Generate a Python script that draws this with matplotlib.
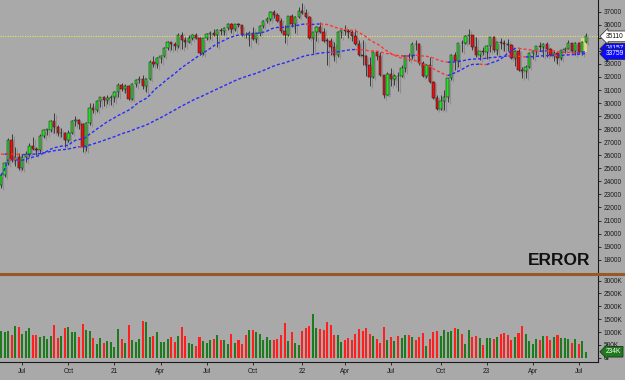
import numpy as np
import pandas as pd
import matplotlib
matplotlib.use("Agg")
import matplotlib.pyplot as plt
from matplotlib.lines import Line2D
from matplotlib.patches import Rectangle
from matplotlib import transforms

plt.rcParams["font.family"] = ["Liberation Sans", "DejaVu Sans"]

BG = "#a9a9a9"
UP, DOWN = "#22e022", "#e81010"
VOL_UP, VOL_DOWN = "#1d7a1d", "#ff1f1f"
MA_UP, MA_DOWN = "#2a2aff", "#ff3535"

# weekly candles, first week ending 2020-05-22
first_week = "2020-05-22"
opens = [
    23690, 24465, 25383, 27150, 25640, 25870, 25020, 25830, 26080, 26680,
    26470, 26430, 27440, 27940, 27940, 28660, 28150, 27680, 27680, 27200,
    27720, 28650, 28680, 28420, 26600, 28450, 29650, 29450, 30120, 30440,
    30270, 30410, 30440, 30860, 31370, 31100, 31290, 30290, 31470, 31790,
    31840, 31290, 31870, 33170, 33030, 33490, 33580, 34240, 34650, 34500,
    34340, 35250, 34860, 34690, 35020, 35250, 34980, 33800, 34950, 35310,
    35400, 35230, 35610, 35490, 35770, 36080, 35690, 36030, 35950, 35200,
    35180, 35400, 34930, 35360, 35910, 36300, 36450, 36960, 36740, 36250,
    35550, 35240, 36640, 36040, 36630, 37020, 36920, 36600, 34960, 35420,
    35790, 35440, 34780, 34760, 34320, 33650, 35460, 35570, 35530, 35440,
    35170, 34530, 33700, 33630, 32930, 32000, 33950, 33640, 32140, 30640,
    32260, 31860, 32100, 32060, 32670, 33620, 33580, 34540, 34490, 33070,
    32110, 32950, 31630, 30400, 29550, 30130, 30470, 31920, 33700, 33240,
    34580, 34570, 35160, 35230, 34270, 33700, 33980, 33910, 34380, 35030,
    34090, 34680, 34610, 34540, 34480, 33450, 34010, 32510, 32440, 32800,
    33820, 34010, 34390, 34290, 34560, 34110, 33710, 33810, 33450, 34090,
    34180, 34570, 33970, 34620, 33920, 34660,
]
highs = [
    24620, 25500, 27340, 27600, 26610, 26200, 26100, 26330, 26950, 27390,
    26670, 27600, 28000, 28050, 28700, 29200, 28350, 28120, 27750, 27900,
    28700, 29000, 28800, 28500, 28550, 30000, 29980, 30250, 30450, 30550,
    30600, 30600, 30950, 31500, 31570, 31450, 31350, 31560, 31850, 32050,
    32140, 31950, 33290, 33600, 33550, 33700, 34300, 34720, 34700, 34700,
    35330, 35440, 35050, 35200, 35300, 35400, 35050, 35020, 35370, 35500,
    35700, 35670, 35750, 35830, 36130, 36110, 36090, 36100, 36000, 35450,
    35500, 35800, 35400, 35950, 36380, 36600, 37020, 37100, 36870, 36500,
    36000, 36700, 36800, 36680, 37380, 37640, 37200, 36700, 35450, 35900,
    36200, 35780, 35000, 35000, 34650, 35500, 35600, 35950, 35700, 35600,
    35650, 34800, 34800, 33700, 33500, 34000, 34000, 33950, 32150, 32350,
    32700, 32200, 32400, 32950, 33700, 33800, 34650, 34800, 34600, 33200,
    33000, 33550, 31700, 30650, 30650, 31000, 31950, 33780, 33900, 34600,
    34800, 35190, 35650, 35250, 35030, 34000, 34300, 34450, 35050, 35120,
    34700, 34950, 34800, 34900, 34500, 34100, 34150, 32800, 32900, 33900,
    34100, 34400, 34650, 34600, 34650, 34200, 34100, 33900, 34100, 34300,
    34850, 34600, 34650, 34700, 34750, 35400,
]
lows = [
    23470, 24330, 25250, 25500, 25150, 24840, 24900, 25520, 25850, 26400,
    25990, 26200, 27350, 27550, 27800, 27700, 27450, 27400, 26600, 27050,
    27600, 28250, 28000, 26230, 26300, 28300, 29200, 29300, 29700, 29800,
    29950, 29850, 30100, 30500, 30950, 30800, 30200, 30260, 31200, 31550,
    31100, 30850, 31800, 32800, 32700, 33100, 33500, 34050, 34100, 34100,
    34200, 34150, 34300, 34600, 34850, 34900, 33700, 33700, 34850, 34900,
    35150, 34300, 35250, 35250, 35600, 35350, 35550, 35800, 35150, 34950,
    34400, 34850, 34600, 35150, 35750, 36150, 36250, 36500, 36180, 35400,
    34600, 35150, 35800, 35350, 36550, 36800, 36500, 34900, 33800, 34750,
    35350, 34700, 32950, 33700, 33250, 33550, 35000, 35200, 35000, 34750,
    34450, 33600, 32900, 32100, 31300, 31900, 33300, 32100, 30400, 30600,
    31300, 31350, 30950, 32000, 32400, 33200, 33350, 34100, 32950, 32000,
    31950, 31550, 30300, 29450, 29500, 29500, 30100, 31800, 32500, 32800,
    33900, 34500, 34550, 34100, 33500, 33300, 33650, 33350, 33900, 33900,
    33700, 34150, 34000, 34000, 33400, 32850, 32450, 31950, 31950, 32700,
    33400, 33650, 34000, 33500, 33550, 33600, 33200, 33000, 33300, 33800,
    34150, 33900, 33700, 33800, 33700, 34600,
]
closes = [
    24465, 25383, 27150, 25640, 25870, 25020, 25830, 26080, 26680, 26470,
    26430, 27440, 27940, 27940, 28660, 28150, 27680, 27680, 27200, 27720,
    28650, 28680, 28420, 26600, 28450, 29650, 29450, 30120, 30440, 30270,
    30410, 30440, 30860, 31370, 31100, 31290, 30290, 31470, 31790, 31840,
    31290, 31870, 33170, 33030, 33490, 33580, 34240, 34650, 34500, 34340,
    35250, 34860, 34690, 35020, 35250, 34980, 33800, 34950, 35310, 35400,
    35230, 35610, 35490, 35770, 36080, 35690, 36030, 35950, 35200, 35180,
    35400, 34930, 35360, 35910, 36300, 36450, 36960, 36740, 36250, 35550,
    35240, 36640, 36040, 36630, 37020, 36920, 36600, 34960, 35420, 35790,
    35440, 34780, 34760, 34320, 33650, 35460, 35570, 35530, 35440, 35170,
    34530, 33700, 33630, 32930, 32000, 33950, 33640, 32140, 30640, 32260,
    31860, 32100, 32060, 32670, 33620, 33580, 34540, 34490, 33070, 32110,
    32950, 31630, 30400, 29550, 30130, 30470, 31920, 33700, 33240, 34580,
    34570, 35160, 35230, 34270, 33700, 33980, 33910, 34380, 35030, 34090,
    34680, 34610, 34540, 34480, 33450, 34010, 32510, 32440, 32800, 33820,
    34010, 34390, 34290, 34560, 34110, 33710, 33810, 33450, 34090, 34180,
    34570, 33970, 34620, 33920, 34660, 35110,
]
# weekly volume, thousands
volumes_k = [
    1040, 1000, 1040, 880, 1230, 1180, 920, 1040, 1140, 870,
    870, 800, 840, 730, 830, 1270, 780, 840, 1150, 1190,
    990, 990, 800, 1310, 1090, 1020, 780, 530, 770, 560,
    660, 610, 430, 1120, 740, 580, 1270, 690, 620, 710,
    1440, 1390, 820, 840, 990, 620, 620, 710, 790, 620,
    840, 1190, 840, 580, 540, 470, 790, 660, 570, 690,
    710, 890, 700, 670, 540, 930, 580, 690, 530, 880,
    1090, 1080, 1000, 930, 690, 820, 690, 690, 730, 880,
    1350, 650, 990, 580, 480, 1040, 1140, 1230, 1720, 1150,
    1100, 1080, 1390, 1270, 870, 870, 620, 690, 780, 670,
    930, 1130, 1040, 1150, 930, 840, 710, 570, 1180, 690,
    800, 650, 830, 770, 870, 870, 800, 670, 800, 960,
    470, 710, 1000, 1020, 840, 1060, 1010, 1020, 1150, 1100,
    930, 530, 1060, 800, 830, 750, 490, 780, 770, 710,
    820, 910, 970, 880, 690, 800, 950, 1250, 930, 650,
    530, 710, 690, 830, 840, 700, 800, 870, 780, 780,
    730, 580, 710, 530, 650, 234,
]
# weekly closes Aug 2019 - mid May 2020, only used to seed the slow average
closes_before_window = [
    26485, 26287, 25886, 25629, 26403, 26797, 27220, 26935, 26820, 26573,
    26817, 26770, 26958, 27347, 27681, 28005, 27876, 28051, 28015, 28135,
    28455, 28645, 28635, 28824, 29348, 28990, 28256, 29103, 29398, 28992,
    25409, 25865, 23186, 19174, 21637, 21053, 23719, 24242, 23775, 23724,
    24331, 23685,
]
# last values printed in the right-hand tags
ma_tag_values = [34157, 33759]
highlight_range = [33940, 34960]

dates = pd.date_range(first_week, periods=len(closes), freq="W-FRI")
o, h, l, c = (np.asarray(v, float) for v in (opens, highs, lows, closes))
up = c >= o

ma_short = pd.Series(c).rolling(20, min_periods=1).mean().to_numpy()
ma_long = (pd.Series(closes_before_window + closes, dtype=float)
           .ewm(span=70, adjust=False).mean()
           .iloc[len(closes_before_window):].to_numpy())

fig = plt.figure(figsize=(6.25, 3.8), dpi=100, facecolor=BG)
ax = fig.add_axes([0, 1 - 273 / 380, 598 / 625, 273 / 380])
axv = fig.add_axes([0, 1 - 362 / 380, 598 / 625, 87 / 380], sharex=ax)

for a in (ax, axv):
    a.set_facecolor(BG)
    a.spines[["top", "left"]].set_visible(False)
    a.spines["right"].set_color("#1a1a1a")
    a.yaxis.tick_right()
    a.tick_params(axis="y", length=2.5, width=0.6, pad=1.5, labelsize=4.7,
                  colors="#1a1a1a")
ax.spines["bottom"].set_visible(False)
ax.tick_params(axis="x", length=0, labelbottom=False)
axv.spines["bottom"].set_color("#1a1a1a")

# candles, with a soft grey drop shadow
shadow = ax.transData + transforms.ScaledTranslation(2 / 100, -2 / 100, fig.dpi_scale_trans)
body_lo = np.minimum(o, c)
body_h = np.maximum(np.abs(c - o), 45)
ax.vlines(dates, l, h, color="#8e8e8e", lw=0.8, transform=shadow, zorder=2)
ax.bar(dates, body_h, bottom=body_lo, width=4.6, color="#939393", lw=0,
       transform=shadow, zorder=2)
ax.vlines(dates, l, h, color="#2a2a2a", lw=0.6, zorder=4)
ax.bar(dates, body_h, bottom=body_lo, width=4.6,
       color=np.where(up, UP, DOWN), edgecolor="#1c1c1c", lw=0.35, zorder=5)


def slope_colored(axis, x, y):
    rising = np.full(len(y), np.nan)
    falling = np.full(len(y), np.nan)
    for i, step in enumerate(np.diff(y)):
        target = rising if step >= 0 else falling
        target[i:i + 2] = y[i:i + 2]
    axis.plot(x, rising, color=MA_UP, lw=1.0, ls=(0, (2.2, 1.5)), zorder=6)
    axis.plot(x, falling, color=MA_DOWN, lw=1.0, ls=(0, (2.2, 1.5)), zorder=6)


slope_colored(ax, dates, ma_short)
slope_colored(ax, dates, ma_long)

ax.axhline(closes[-1], color="#e4e45a", lw=0.8, ls=(0, (1, 1.2)), zorder=3)
ax.add_patch(Rectangle((dates[-2] - pd.Timedelta(days=2), highlight_range[0]),
                       pd.Timedelta(days=12), highlight_range[1] - highlight_range[0],
                       facecolor="#e6e27a", alpha=0.8, lw=0, zorder=3))

ax.set_ylim(16977, 37897)
price_ticks = np.arange(17000, 37001, 1000)
ax.set_yticks(price_ticks)
ax.set_yticklabels([""] + [str(t) for t in price_ticks[1:]])
ax.set_xlim(dates[0] - pd.Timedelta(days=2), dates[-1] + pd.Timedelta(days=24))

ax.text(0.988, 0.03, "ERROR", transform=ax.transAxes, ha="right", va="baseline",
        fontsize=12.5, fontweight="bold", color="#111111")


def tag(axis, y, text, face, fg):
    axis.text(1.013, y, text, transform=axis.get_yaxis_transform(), ha="left",
              va="center", fontsize=4.8, color=fg, clip_on=False, zorder=10,
              bbox=dict(boxstyle="larrow,pad=0.28", fc=face, ec="#222222", lw=0.5))


for value in ma_tag_values:
    tag(ax, value, str(value), "#0a0aff", "white")
tag(ax, closes[-1], str(closes[-1]), "white", "#111111")

# volume
axv.bar(dates, volumes_k, width=4.0, color=np.where(up, VOL_UP, VOL_DOWN), lw=0)
axv.set_ylim(-167, 3218)
vol_ticks = np.arange(0, 3001, 500)
axv.set_yticks(vol_ticks)
axv.set_yticklabels(["0"] + [f"{t}K" for t in vol_ticks[1:]])
tag(axv, volumes_k[-1], f"{volumes_k[-1]}K", "#1d7a1d", "white")

quarter_starts = [d for i, d in enumerate(dates)
                  if d.month in (1, 4, 7, 10) and (i == 0 or dates[i - 1].month != d.month)]
axv.set_xticks(quarter_starts)
axv.set_xticklabels([d.strftime("%y") if d.month == 1 else d.strftime("%b")
                     for d in quarter_starts])
axv.tick_params(axis="x", length=2.5, width=0.6, pad=2, labelsize=4.7, colors="#1a1a1a")

fig.add_artist(Line2D([0, 1], [1 - 274 / 380] * 2, transform=fig.transFigure,
                      color="#98582a", lw=2.2))

fig.savefig("out.png", dpi=100, facecolor=BG)
